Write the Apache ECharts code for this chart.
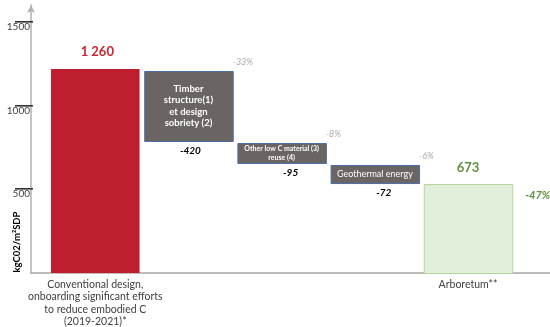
<!DOCTYPE html>
<html>
<head>
<meta charset="utf-8">
<script src="https://cdn.jsdelivr.net/npm/echarts@6/dist/echarts.min.js"></script>
<style>html,body{margin:0;padding:0;background:#fff}#c{width:550px;height:327px}</style>
</head>
<body>
<div id="c"></div>
<script>
// Categories (x positions 0..4)
const categories = [
  'Conventional design,\nonboarding significant efforts\nto reduce embodied C\n(2019-2021)*',
  'Timber\nstructure(1)\net design\nsobriety (2)',
  'Other low C material (3)\nreuse (4)',
  'Geothermal energy',
  'Arboretum**'
];
// Values written on the chart
const stepLabels = ['1 260', '-420', '-95', '-72', '673'];
const percentLabels = ['', '-33%', '-8%', '-6%', '-47%'];
// Box extents as drawn in the picture (kgCO2/m² SDP on the axis scale)
const boxTop = [1218, 1206, 776, 645, 531];
const boxBottom = [0, 788, 657, 537, 0];
// Y tick labels
const yTicks = [500, 1000, 1500];

const FONT = 'Lato, "Open Sans", sans-serif';
const W = 0.95;
const X_MIN = -0.69, X_MAX = 4.88;

const data = categories.map((c, i) => [i, boxTop[i], boxBottom[i]]);

function renderItem(params, api) {
  const i = api.value(0);
  const p1 = api.coord([i - W / 2, api.value(1)]);
  const p2 = api.coord([i + W / 2, api.value(2)]);
  const x = p1[0], y = p1[1], w = p2[0] - p1[0], h = p2[1] - p1[1];
  const cx = x + w / 2, cy = y + h / 2;
  const children = [];
  if (i === 0) {
    children.push({type: 'rect', shape: {x, y, width: w, height: h}, style: {fill: '#be1e2d'}});
    children.push({type: 'text', style: {text: stepLabels[i], x: cx + 2, y: y - 17, align: 'center', verticalAlign: 'middle', fill: '#c8262f', font: 'bold 13px ' + FONT}});
  } else if (i === 4) {
    children.push({type: 'rect', shape: {x: x + 0.5, y: y + 0.5, width: w, height: h}, style: {fill: '#e2efda', stroke: '#b4d69c', lineWidth: 1}});
    children.push({type: 'text', style: {text: stepLabels[i], x: cx, y: y - 16, align: 'center', verticalAlign: 'middle', fill: '#5e8f3e', font: 'bold 13px ' + FONT}});
    children.push({type: 'text', style: {text: percentLabels[i], x: x + w + 13, y: y + 11, align: 'left', verticalAlign: 'middle', fill: '#5e8f3e', font: 'italic bold 11px ' + FONT}});
  } else {
    children.push({type: 'rect', shape: {x: x + 0.5, y: y + 0.5, width: w, height: h}, style: {fill: '#6a6563', stroke: '#4a6ea8', lineWidth: 1}});
    const inner = i === 1 ? {font: 'bold 9.5px ' + FONT, lh: 11.5}
                : i === 2 ? {font: 'bold 7px ' + FONT, lh: 9}
                : {font: '9px ' + FONT, lh: 11};
    children.push({type: 'text', style: {text: categories[i], x: cx, y: cy, align: 'center', verticalAlign: 'middle', fill: '#ffffff', font: inner.font, lineHeight: inner.lh}});
    const dx = i === 1 ? 2 : 9;
    children.push({type: 'text', style: {text: stepLabels[i], x: cx + dx, y: y + h + 10, align: 'center', verticalAlign: 'middle', fill: '#000000', font: 'italic bold 10px ' + FONT}});
    children.push({type: 'text', style: {text: percentLabels[i], x: x + w, y: y - 9, align: 'left', verticalAlign: 'middle', fill: '#aaaaaa', font: 'italic 9px ' + FONT}});
  }
  return {type: 'group', children};
}

// y-axis tick marks, drawn as thin rectangles placed through the axis scale
function renderTick(params, api) {
  const p = api.coord([api.value(0), api.value(1)]);
  return {type: 'rect', shape: {x: p[0] - 16, y: Math.round(p[1]) - 1, width: 18, height: 1.6}, style: {fill: '#333333'}};
}

const chart = echarts.init(document.getElementById('c'), null, {renderer: 'canvas'});
chart.setOption({
  animation: false,
  backgroundColor: '#ffffff',
  grid: {left: 31, right: 0, top: 5, bottom: 54, containLabel: false, outerBoundsMode: 'none'},
  xAxis: {
    type: 'value', min: X_MIN, max: X_MAX,
    splitLine: {show: false},
    axisTick: {show: false},
    axisLine: {show: true, onZero: false, lineStyle: {color: '#a6a6a6', width: 1.5}},
    axisLabel: {
      customValues: [0, 4],
      formatter: v => categories[Math.round(v)],
      margin: 5, color: '#404040', fontFamily: FONT, fontSize: 10.5, lineHeight: 12.5, align: 'center'
    }
  },
  yAxis: {
    type: 'value', min: 0, max: 1600,
    splitLine: {show: false},
    axisLine: {show: true, onZero: false, symbol: ['none', 'arrow'], symbolSize: [6, 8], lineStyle: {color: '#b0b0b0', width: 1.5}},
    axisTick: {show: false},
    axisLabel: {
      customValues: yTicks, formatter: v => String(v), margin: 1,
      verticalAlign: 'top', color: '#404040', fontFamily: FONT, fontSize: 10
    }
  },
  graphic: [{
    type: 'text', x: 17, y: 242, rotation: Math.PI / 2,
    style: {text: 'kgC02/m²SDP', align: 'center', verticalAlign: 'middle', fill: '#000000', font: 'bold 9.5px ' + FONT}
  }],
  series: [{
    type: 'custom',
    renderItem,
    clip: false,
    encode: {x: 0, y: [1, 2]},
    data
  }, {
    type: 'custom',
    renderItem: renderTick,
    clip: false,
    z: 20,
    encode: {x: 0, y: 1},
    data: yTicks.map(v => [X_MIN, v])
  }]
});
</script>
</body>
</html>
